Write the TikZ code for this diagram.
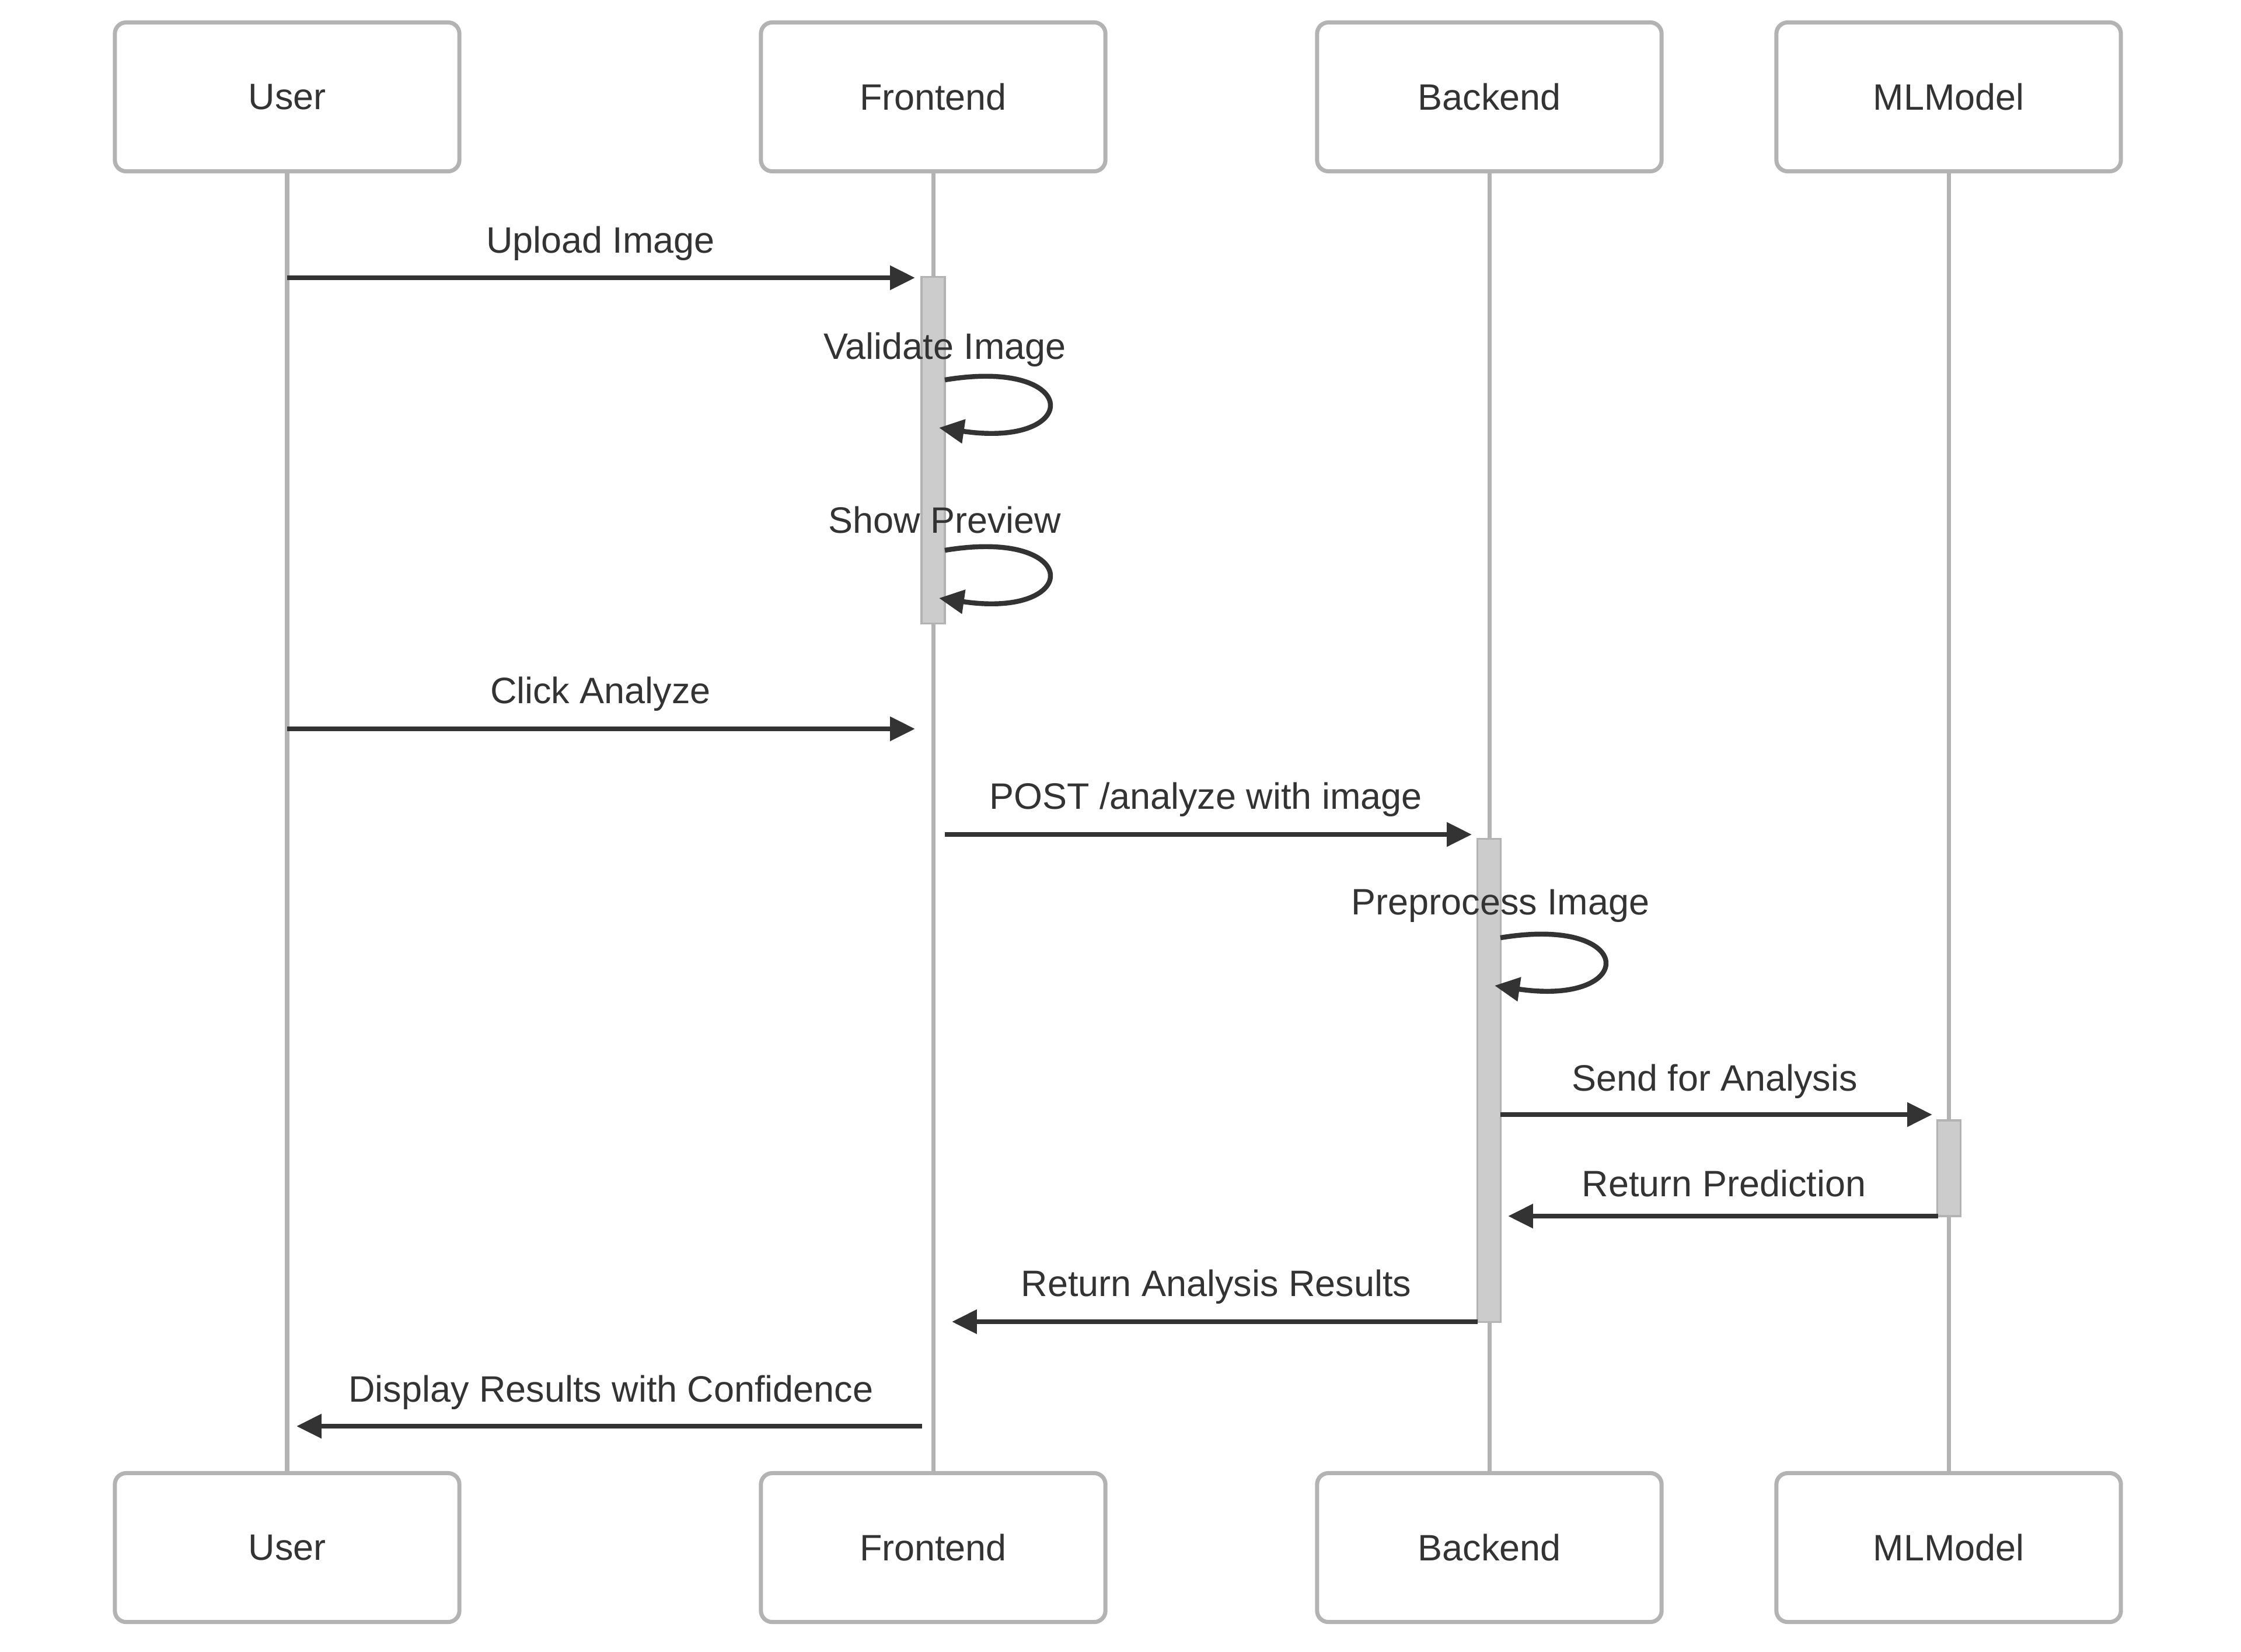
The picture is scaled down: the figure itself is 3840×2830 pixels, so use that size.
\documentclass[tikz,border=0pt]{standalone}
\usepackage{fontspec}
\setmainfont{Liberation Sans}
\usetikzlibrary{arrows.meta,calc}
\definecolor{ink}{HTML}{333333}
\definecolor{edge}{HTML}{B3B3B3}
\definecolor{barfill}{HTML}{CCCCCC}
\begin{document}
\begin{tikzpicture}[x=0.01cm,y=-0.01cm,
  actor/.style={draw=edge,line width=2pt,rounded corners=5.5pt,fill=white,
    minimum width=5.9cm,minimum height=2.55cm,inner sep=0pt,
    font=\fontsize{17.9}{21}\selectfont,text=ink},
  lifeline/.style={draw=edge,line width=2pt},
  actbar/.style={draw=edge,line width=0.9pt,fill=barfill,minimum width=0.40cm,inner sep=0pt},
  msg/.style={draw=ink,line width=2.4pt,-{Triangle[length=12.2pt,width=11.4pt]}},
  lbl/.style={anchor=base,inner sep=0pt,font=\fontsize{17.9}{21}\selectfont,text=ink}]
\useasboundingbox (0,0) rectangle (3840,2830);

% participants, top and bottom
\node[actor] (userT)  at (492,166) {User};
\node[actor] (frontT) at (1599,166) {Frontend};
\node[actor] (backT)  at (2552,166) {Backend};
\node[actor] (mlT)    at (3339,166) {MLModel};
\node[actor] (userB)  at (492,2652) {User};
\node[actor] (frontB) at (1599,2652) {Frontend};
\node[actor] (backB)  at (2552,2652) {Backend};
\node[actor] (mlB)    at (3339,2652) {MLModel};

% lifelines
\draw[lifeline] (userT.south) -- (userB.north);
\draw[lifeline] (frontT.south) -- (frontB.north);
\draw[lifeline] (backT.south) -- (backB.north);
\draw[lifeline] (mlT.south) -- (mlB.north);

% activation bars
\node[actbar,minimum height=5.93cm] (actF) at (1599,771.5) {};
\node[actbar,minimum height=8.27cm] (actB) at (2551.5,1851.5) {};
\node[actbar,minimum height=1.64cm] (actM) at (3339.5,2002) {};

% message end points
\coordinate (m1s) at (492,476);   \coordinate (m1e) at (1568,476);
\coordinate (v1s) at (1619,651);  \coordinate (v1e) at (1609,733);
\coordinate (v2s) at (1619,943);  \coordinate (v2e) at (1609,1025);
\coordinate (m2s) at (492,1249);  \coordinate (m2e) at (1568,1249);
\coordinate (m3s) at (1619,1430); \coordinate (m3e) at (2522,1430);
\coordinate (v3s) at (2571,1607); \coordinate (v3e) at (2561,1689);
\coordinate (m4s) at (2571,1910); \coordinate (m4e) at (3311,1910);
\coordinate (m5s) at (3321,2084); \coordinate (m5e) at (2584,2084);
\coordinate (m6s) at (2532,2265); \coordinate (m6e) at (1631,2265);
\coordinate (m7s) at (1580,2444); \coordinate (m7e) at (508,2444);

% messages
\draw[msg] (m1s) -- (m1e);
\node[lbl] (l1) at (1029,433) {Upload Image};

\draw[msg] (v1s) .. controls ($(v1s)+(236,-39)$) and ($(v1s)+(236,118)$) .. (v1e);
\node[lbl] (l2) at (1619,615) {Validate Image};

\draw[msg] (v2s) .. controls ($(v2s)+(236,-39)$) and ($(v2s)+(236,118)$) .. (v2e);
\node[lbl] (l3) at (1619,913) {Show Preview};

\draw[msg] (m2s) -- (m2e);
\node[lbl] (l4) at (1029,1205) {Click Analyze};

\draw[msg] (m3s) -- (m3e);
\node[lbl] (l5) at (2066,1386) {POST /analyze with image};

\draw[msg] (v3s) .. controls ($(v3s)+(236,-39)$) and ($(v3s)+(236,118)$) .. (v3e);
\node[lbl] (l6) at (2571,1567) {Preprocess Image};

\draw[msg] (m4s) -- (m4e);
\node[lbl] (l7) at (2938,1869) {Send for Analysis};

\draw[msg] (m5s) -- (m5e);
\node[lbl] (l8) at (2954,2050) {Return Prediction};

\draw[msg] (m6s) -- (m6e);
\node[lbl] (l9) at (2084,2221) {Return Analysis Results};

\draw[msg] (m7s) -- (m7e);
\node[lbl] (l10) at (1047,2402) {Display Results with Confidence};
\end{tikzpicture}
\end{document}
